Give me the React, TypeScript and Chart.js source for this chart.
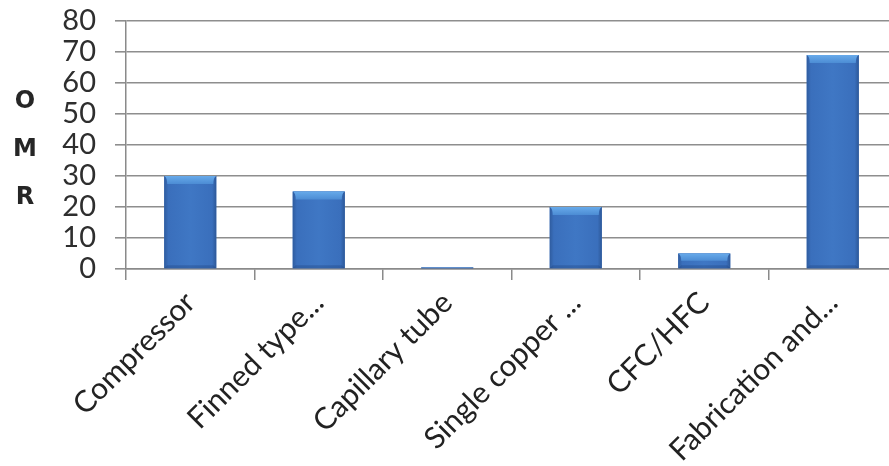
import React, { useEffect, useRef } from "react";
import { Chart, registerables } from "chart.js";

Chart.register(...registerables);

const categories = [
  "Compressor",
  "Finned type...",
  "Capillary tube",
  "Single copper ...",
  "CFC/HFC",
  "Fabrication and...",
];
const omrValues = [30, 25, 0.5, 20, 5, 69];
const yMin = 0;
const yMax = 80;
const yStep = 10;
const yTitleLetters = ["O", "M", "R"];

const FONT = "Lato, 'Open Sans', 'DejaVu Sans', sans-serif";
const BOLD_FONT = "'DejaVu Sans', 'Open Sans', sans-serif";

const bevelPlugin = {
  id: "bevelBars",
  afterDatasetsDraw(chart: any) {
    const ctx = chart.ctx as CanvasRenderingContext2D;
    const meta = chart.getDatasetMeta(0);
    ctx.save();
    meta.data.forEach((bar: any) => {
      const { x, y, base, width } = bar.getProps(["x", "y", "base", "width"], true);
      const l = x - width / 2;
      const r = x + width / 2;
      const t = Math.min(y, base);
      const b = Math.max(y, base);
      const h = b - t;
      const g = ctx.createLinearGradient(l, 0, r, 0);
      g.addColorStop(0, "#2f5c9f");
      g.addColorStop(0.08, "#3a6fbc");
      g.addColorStop(0.5, "#3f77c4");
      g.addColorStop(0.92, "#3a6fbc");
      g.addColorStop(1, "#2d5898");
      ctx.fillStyle = g;
      ctx.fillRect(l, t, width, h);
      const bv = Math.min(8, h / 2);
      const sv = Math.min(3, h / 2);
      const tg = ctx.createLinearGradient(0, t, 0, t + bv);
      tg.addColorStop(0, "#67aaea");
      tg.addColorStop(1, "#4c8cd4");
      ctx.fillStyle = tg;
      ctx.beginPath();
      ctx.moveTo(l, t);
      ctx.lineTo(r, t);
      ctx.quadraticCurveTo(r - sv, t + bv * 0.2, r - sv, t + bv);
      ctx.lineTo(l + sv, t + bv);
      ctx.quadraticCurveTo(l + sv, t + bv * 0.2, l, t);
      ctx.closePath();
      ctx.fill();
      ctx.fillStyle = "rgba(25,60,115,0.3)";
      ctx.beginPath();
      ctx.moveTo(l, b);
      ctx.lineTo(l + sv, b - sv);
      ctx.lineTo(r - sv, b - sv);
      ctx.lineTo(r, b);
      ctx.closePath();
      ctx.fill();
    });
    ctx.restore();
  },
};

const yTitlePlugin = {
  id: "stackedYTitle",
  afterDraw(chart: any) {
    const ctx = chart.ctx as CanvasRenderingContext2D;
    const yScale = chart.scales.y;
    ctx.save();
    ctx.font = `bold 24px ${BOLD_FONT}`;
    ctx.fillStyle = "#262626";
    ctx.textAlign = "center";
    ctx.textBaseline = "middle";
    const yMid = yScale.getPixelForValue(38.4);
    const spacing = 48;
    yTitleLetters.forEach((ch, i) => {
      ctx.fillText(ch, 25, yMid + (i - 1) * spacing);
    });
    ctx.restore();
  },
};

export default function App() {
  const canvasRef = useRef<HTMLCanvasElement | null>(null);

  useEffect(() => {
    if (!canvasRef.current) return;
    const chart = new Chart(canvasRef.current, {
      type: "bar",
      data: {
        labels: categories,
        datasets: [
          {
            label: "OMR",
            data: omrValues,
            backgroundColor: "#3d72c0",
            borderWidth: 0,
            categoryPercentage: 1,
            barPercentage: 0.405,
          },
        ],
      },
      options: {
        responsive: false,
        animation: false,
        layout: { padding: { top: 21, right: 3, left: 0, bottom: 0 } },
        plugins: {
          legend: { display: false },
          tooltip: { enabled: false },
          title: { display: false },
        },
        scales: {
          x: {
            grid: {
              display: true,
              drawOnChartArea: false,
              drawTicks: true,
              tickLength: 11,
              color: "#8a8a8a",
              lineWidth: 1.5,
              offset: true,
            },
            border: { display: true, color: "#8a8a8a", width: 1.5 },
            ticks: {
              maxRotation: 45,
              minRotation: 45,
              autoSkip: false,
              padding: 5,
              color: "#222222",
              font: { family: FONT, size: 30 },
            },
            afterFit: (scale: any) => {
              scale.height = 197;
              scale.paddingLeft = 0;
              scale.paddingRight = 0;
            },
          },
          y: {
            min: yMin,
            max: yMax,
            grid: {
              color: "#8e8e8e",
              lineWidth: 1.6,
              tickLength: 11,
              drawTicks: true,
            },
            border: { display: true, color: "#8a8a8a", width: 1.5 },
            ticks: {
              stepSize: yStep,
              autoSkip: false,
              padding: 19,
              color: "#2e2e2e",
              font: { family: FONT, size: 29 },
            },
            afterFit: (scale: any) => {
              scale.width = 126;
              scale.paddingTop = 0;
              scale.paddingBottom = 0;
            },
          },
        },
      },
      plugins: [bevelPlugin, yTitlePlugin],
    });
    return () => chart.destroy();
  }, []);

  return (
    <div
      style={{
        position: "fixed",
        left: 0,
        top: 0,
        width: 889,
        height: 466,
        overflow: "hidden",
        background: "#ffffff",
      }}
    >
      <canvas ref={canvasRef} width={900} height={466} style={{ display: "block" }} />
    </div>
  );
}
